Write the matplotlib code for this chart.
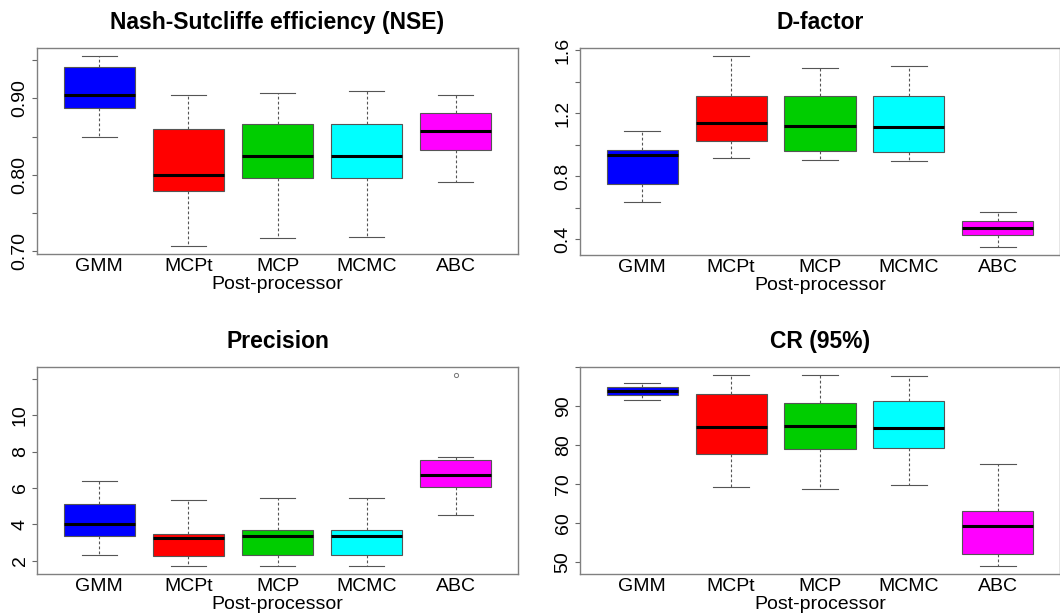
import matplotlib.pyplot as plt
import numpy as np

plt.rcParams['font.family'] = ['Liberation Sans', 'DejaVu Sans']

# post-processors compared in every panel
methods = ["GMM", "MCPt", "MCP", "MCMC", "ABC"]
colors = ["#0000ff", "#ff0000", "#00cd00", "#00ffff", "#ff00ff"]

# five-number summaries per method: low whisker, q1, median, q3, high whisker
nse_lo = [0.850, 0.706, 0.717, 0.718, 0.790]
nse_q1 = [0.887, 0.778, 0.796, 0.795, 0.832]
nse_med = [0.904, 0.799, 0.824, 0.825, 0.857]
nse_q3 = [0.941, 0.860, 0.867, 0.867, 0.881]
nse_hi = [0.956, 0.905, 0.907, 0.910, 0.905]

df_lo = [0.633, 0.914, 0.904, 0.898, 0.347]
df_q1 = [0.747, 1.022, 0.959, 0.952, 0.423]
df_med = [0.933, 1.137, 1.116, 1.111, 0.468]
df_q3 = [0.965, 1.310, 1.310, 1.308, 0.512]
df_hi = [1.090, 1.566, 1.486, 1.498, 0.570]

pr_lo = [2.33, 1.69, 1.71, 1.69, 4.53]
pr_q1 = [3.34, 2.26, 2.30, 2.30, 6.04]
pr_med = [4.00, 3.27, 3.34, 3.34, 6.73]
pr_q3 = [5.12, 3.49, 3.67, 3.67, 7.54]
pr_hi = [6.37, 5.36, 5.43, 5.43, 7.71]
pr_out = [[], [], [], [], [12.24]]

cr_lo = [91.7, 69.1, 68.6, 69.7, 48.8]
cr_q1 = [92.9, 77.7, 79.0, 79.3, 52.1]
cr_med = [93.9, 84.6, 84.9, 84.4, 59.2]
cr_q3 = [94.8, 93.0, 90.8, 91.2, 63.0]
cr_hi = [95.9, 98.1, 98.1, 97.7, 75.1]

W, H = 1060, 614
fig = plt.figure(figsize=(W / 100, H / 100), dpi=100)


def panel(rect, title, lo, q1, med, q3, hi, ticks, labels, out=None):
    l, t, r, b = rect
    ax = fig.add_axes([l / W, (H - b) / H, (r - l) / W, (b - t) / H])
    stats = []
    for i in range(len(methods)):
        stats.append(dict(whislo=lo[i], q1=q1[i], med=med[i], q3=q3[i],
                          whishi=hi[i], fliers=out[i] if out else []))
    bp = ax.bxp(stats, positions=range(1, 6), widths=0.8, capwidths=0.4,
                patch_artist=True,
                boxprops=dict(edgecolor="#555555", linewidth=0.8),
                medianprops=dict(color="black", linewidth=2.2),
                whiskerprops=dict(color="#555555", linewidth=0.8, linestyle=(0, (2.5, 2))),
                capprops=dict(color="#555555", linewidth=0.8),
                flierprops=dict(marker="o", markersize=3, markerfacecolor="none",
                                markeredgecolor="#777777", markeredgewidth=0.7))
    for patch, c in zip(bp["boxes"], colors):
        patch.set_facecolor(c)

    # R-style range: data extent padded by 4% on each side
    vals = np.concatenate([lo, hi] + ([sum(out, [])] if out else []))
    rng = vals.max() - vals.min()
    ax.set_ylim(vals.min() - 0.04 * rng, vals.max() + 0.04 * rng)
    ax.set_xlim(0.3, 5.7)

    ax.set_yticks(ticks)
    ax.set_yticklabels(labels, rotation=90, va="center")
    ax.set_xticks(range(1, 6))
    ax.set_xticklabels(methods)
    ax.tick_params(axis="x", length=0, pad=3, labelsize=14)
    ax.tick_params(axis="y", length=3.5, width=0.8, pad=2.5, labelsize=14,
                   color="#666666")
    ax.set_xlabel("Post-processor", fontsize=14, labelpad=0.5)
    ax.set_title(title, fontsize=16.5, fontweight="bold", pad=14)
    for s in ax.spines.values():
        s.set_color("#808080")
        s.set_linewidth(1.0)
    return ax


panel((37, 48, 518, 254), "Nash-Sutcliffe efficiency (NSE)",
      nse_lo, nse_q1, nse_med, nse_q3, nse_hi,
      [0.70, 0.75, 0.80, 0.85, 0.90, 0.95],
      ["0.70", "", "0.80", "", "0.90", ""])
panel((580, 48, 1060, 255), "D-factor",
      df_lo, df_q1, df_med, df_q3, df_hi,
      [0.4, 0.6, 0.8, 1.0, 1.2, 1.4, 1.6],
      ["0.4", "", "0.8", "", "1.2", "", "1.6"])
panel((37, 367, 518, 574), "Precision",
      pr_lo, pr_q1, pr_med, pr_q3, pr_hi,
      [2, 4, 6, 8, 10, 12],
      ["2", "4", "6", "8", "10", ""], out=pr_out)
panel((580, 367, 1060, 574), "CR (95%)",
      cr_lo, cr_q1, cr_med, cr_q3, cr_hi,
      [50, 60, 70, 80, 90, 100],
      ["50", "60", "70", "80", "90", ""])

fig.savefig("out.png", dpi=100, facecolor="white")
